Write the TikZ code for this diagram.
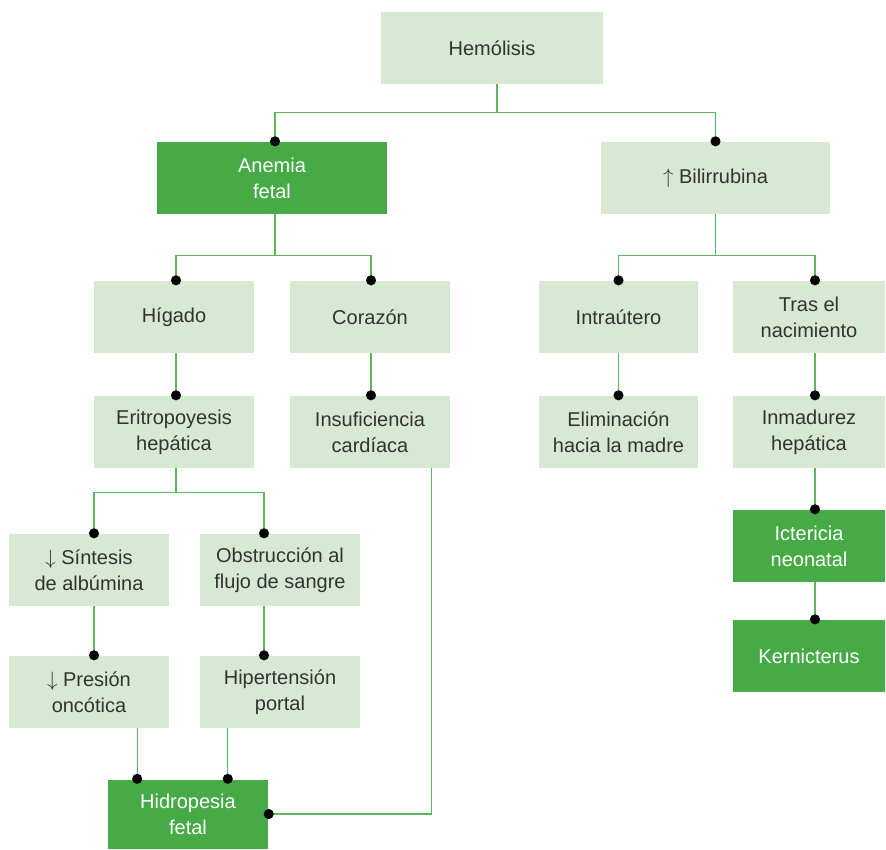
\documentclass[tikz,border=0pt]{standalone}
\usepackage{fontspec}
\setmainfont{Liberation Sans}
\usetikzlibrary{arrows.meta}
\definecolor{palegreen}{HTML}{D7E8D3}
\definecolor{deepgreen}{HTML}{46AA46}
\definecolor{linegreen}{HTML}{5CB85C}
\definecolor{textgray}{HTML}{333333}
\tikzset{
  box/.style={fill=palegreen, text=textgray, minimum width=160pt, minimum height=72pt,
    inner sep=0pt, align=center, font=\fontsize{20}{26}\selectfont},
  darkbox/.style={box, fill=deepgreen, text=white},
  link/.style={draw=linegreen, line width=1.3pt, -{Circle[length=10pt,color=black]}, shorten >=-4.5pt},
}
\begin{document}
\begin{tikzpicture}[x=1pt, y=-1pt]
    \useasboundingbox (0,0) rectangle (886,849);
    \node[box, minimum width=222pt] (hemo) at (492,48) {Hemólisis};
    \node[darkbox, minimum width=230pt] (anemia) at (272,178) {Anemia\\fetal};
    \node[box, minimum width=229pt] (bili) at (715.5,178) {$\uparrow$ Bilirrubina};
    \node[box] (higado) at (174,317) {Hígado};
    \node[box] (corazon) at (370,317) {Corazón};
    \node[box, minimum width=159pt] (intra) at (618.5,317) {Intraútero};
    \node[box, minimum width=152pt] (tras) at (809,317) {Tras el\\nacimiento};
    \node[box] (erit) at (174,432) {Eritropoyesis\\hepática};
    \node[box] (insuf) at (370,432) {Insuficiencia\\cardíaca};
    \node[box, minimum width=159pt] (elim) at (618.5,432) {Eliminación\\hacia la madre};
    \node[box, minimum width=152pt] (inmad) at (809,432) {Inmadurez\\hepática};
    \node[box] (sint) at (89,570) {$\downarrow$ Síntesis\\de albúmina};
    \node[box] (obst) at (280,570) {Obstrucción al\\flujo de sangre};
    \node[darkbox, minimum width=152pt] (icter) at (809,546) {Ictericia\\neonatal};
    \node[darkbox, minimum width=152pt] (kern) at (809,656) {Kernicterus};
    \node[box] (presion) at (89,692) {$\downarrow$ Presión\\oncótica};
    \node[box] (hiper) at (280,692) {Hipertensión\\portal};
    \node[darkbox, minimum height=69pt] (hidro) at (188,814) {Hidropesia\\fetal};
    \draw[link] ([xshift=5pt]hemo.south) -- ++(0,28) -| ([xshift=3pt]anemia.north);
    \draw[link] ([xshift=5pt]hemo.south) -- ++(0,28) -| (bili.north);
    \draw[link] ([xshift=3pt]anemia.south) -- ++(0,41) -| ([xshift=2pt]higado.north);
    \draw[link] ([xshift=3pt]anemia.south) -- ++(0,41) -| ([xshift=1pt]corazon.north);
    \draw[link] (bili.south) -- ++(0,41) -| (intra.north);
    \draw[link] (bili.south) -- ++(0,41) -| ([xshift=6pt]tras.north);
    \draw[link] ([xshift=2pt]higado.south) -- ([xshift=2pt]erit.north);
    \draw[link] ([xshift=1pt]corazon.south) -- ([xshift=1pt]insuf.north);
    \draw[link] (intra.south) -- (elim.north);
    \draw[link] ([xshift=6pt]tras.south) -- ([xshift=6pt]inmad.north);
    \draw[link] ([xshift=2pt]erit.south) -- ++(0,24) -| ([xshift=5pt]sint.north);
    \draw[link] ([xshift=2pt]erit.south) -- ++(0,24) -| ([xshift=-16pt]obst.north);
    \draw[link] ([xshift=5pt]sint.south) -- ([xshift=5pt]presion.north);
    \draw[link] ([xshift=-16pt]obst.south) -- ([xshift=-16pt]hiper.north);
    \draw[link] ([xshift=-32pt]presion.south east) coordinate (p1) -- (p1 |- hidro.north);
    \draw[link] ([xshift=28pt]hiper.south west) coordinate (p2) -- (p2 |- hidro.north);
    \draw[link] ([xshift=-19pt]insuf.south east) coordinate (p3) |- (hidro.east);
    \draw[link] ([xshift=6pt]inmad.south) -- ([xshift=6pt]icter.north);
    \draw[link] ([xshift=6pt]icter.south) -- ([xshift=6pt]kern.north);
\end{tikzpicture}
\end{document}
